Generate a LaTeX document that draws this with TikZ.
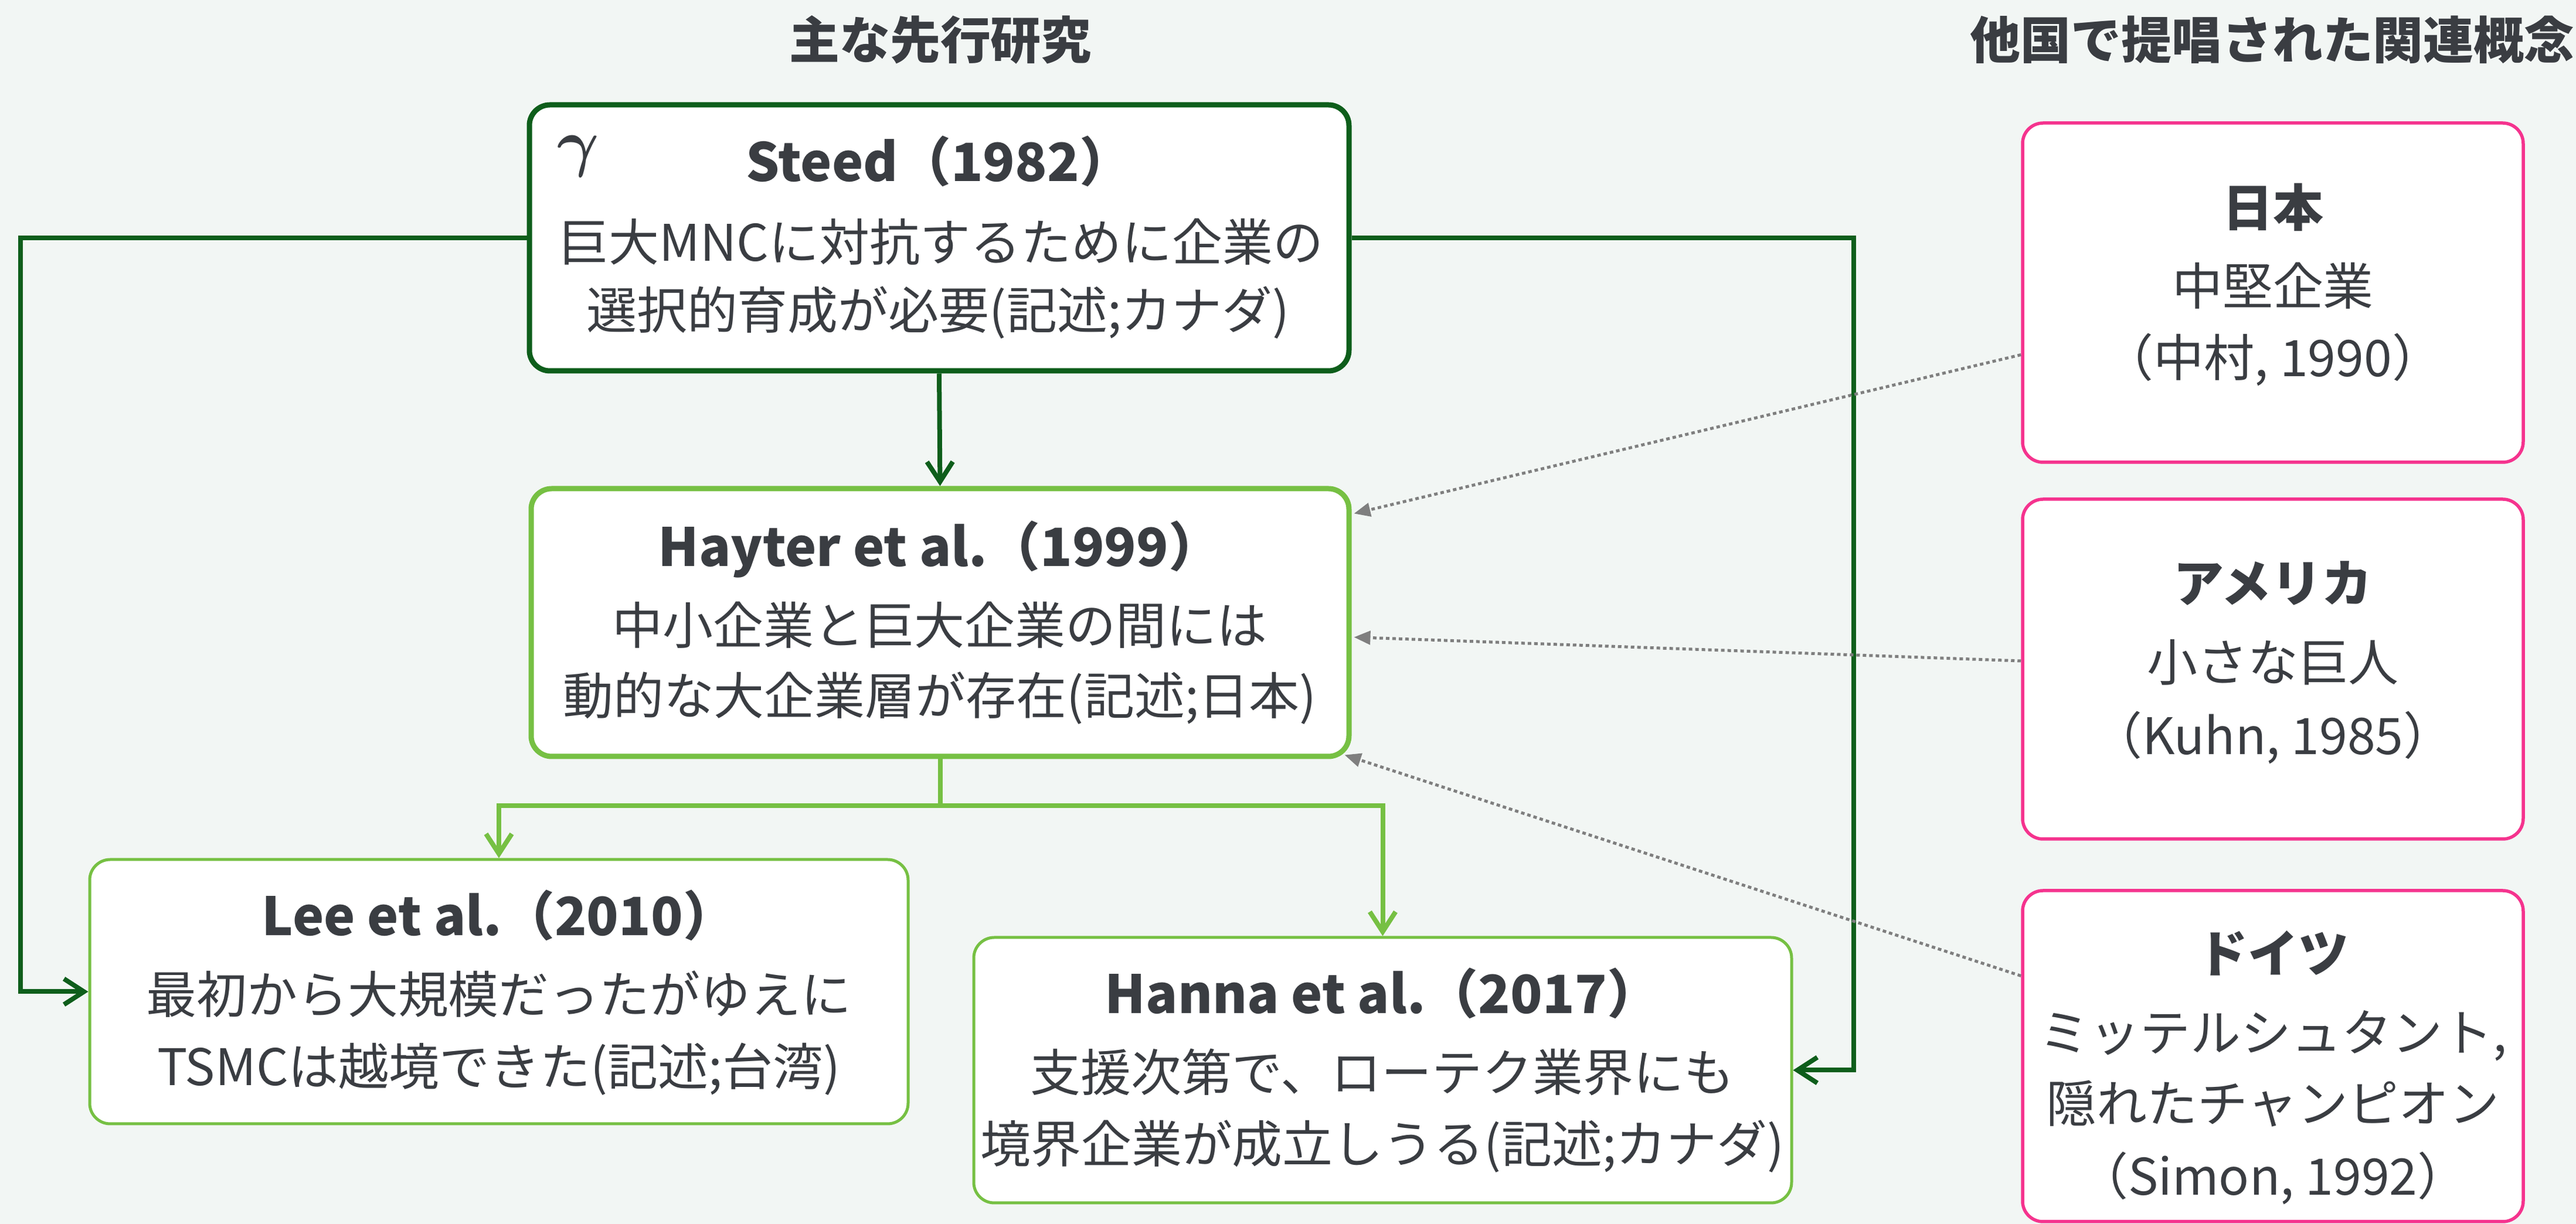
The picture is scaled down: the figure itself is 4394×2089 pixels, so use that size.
\documentclass[tikz,border=0pt]{standalone}
\usepackage{bm}
\usepackage{fontspec}
\setmainfont{Noto Sans CJK JP}
\usetikzlibrary{fit,arrows.meta,calc}
\definecolor{bg}{HTML}{F2F6F4}
\definecolor{dkg}{HTML}{0E5E1B}
\definecolor{ltg}{HTML}{76C043}
\definecolor{pnk}{HTML}{F5338E}
\definecolor{txt}{HTML}{3A3D42}
\definecolor{gry}{HTML}{7F7F7F}
\begin{document}
\begin{tikzpicture}[x=0.1pt,y=-0.1pt,
  box/.style={draw, fill=white, rounded corners=3.5pt, inner sep=0pt},
  body/.style={anchor=base, inner sep=0pt, text=txt, font=\fontsize{8.6pt}{10pt}\selectfont},
  head/.style={anchor=base, inner sep=0pt, text=txt, font=\fontsize{9pt}{10pt}\selectfont\bfseries},
  title/.style={anchor=base, inner sep=0pt, text=txt, font=\fontsize{8.6pt}{10pt}\selectfont\bfseries},
  dkarrow/.style={draw=dkg, line width=0.8pt, -{Straight Barb[length=3.4pt,width=4.4pt]}},
  ltarrow/.style={draw=ltg, line width=0.8pt, -{Straight Barb[length=3.4pt,width=4.4pt]}},
  dotarrow/.style={draw=gry, line width=0.5pt, dash pattern=on 0.6pt off 0.5pt, -{Triangle[length=2.8pt,width=2.3pt]}},
]
\useasboundingbox (0,0) rectangle (4394,2089);
\fill[bg] (0,0) rectangle (4394,2089);

% titles
\node[title] (t1) at (1604,101) {主な先行研究};
\node[title] (t2) at (3876,101) {他国で提唱された関連概念};

% boxes
\node[box, draw=dkg, line width=0.9pt, fit={(903,179)(2301,633)}] (steed) {};
\node[box, draw=ltg, line width=0.9pt, fit={(906,834)(2301,1291)}] (hayter) {};
\node[box, draw=ltg, line width=0.5pt, fit={(153,1467)(1549,1918)}] (lee) {};
\node[box, draw=ltg, line width=0.5pt, fit={(1661,1600)(3056,2053)}] (hanna) {};
\node[box, draw=pnk, line width=0.55pt, fit={(3450,210)(4304,789)}] (jp) {};
\node[box, draw=pnk, line width=0.55pt, fit={(3450,852)(4304,1432)}] (us) {};
\node[box, draw=pnk, line width=0.55pt, fit={(3450,1520)(4304,2085)}] (de) {};

% Steed text
\node[anchor=base, inner sep=0pt, text=txt, font=\fontsize{10.5pt}{11pt}\selectfont] (gam) at (986,281) {$\bm{\gamma}$};
\node[head] (steedH) at (1602,310) {Steed（1982）};
\node[body] (steedA) at (1605,446) {巨大MNCに対抗するために企業の};
\node[body] (steedB) at (1600,562) {選択的育成が必要(記述;カナダ)};

% Hayter text
\node[head] (hayH) at (1603,967) {Hayter et al.（1999）};
\node[body] (hayA) at (1603,1100) {中小企業と巨大企業の間には};
\node[body] (hayB) at (1603,1220) {動的な大企業層が存在(記述;日本)};

% Lee text
\node[head] (leeH) at (851,1597) {Lee et al.（2010）};
\node[body] (leeA) at (851,1730) {最初から大規模だったがゆえに};
\node[body] (leeB) at (851,1853) {TSMCは越境できた(記述;台湾)};

% Hanna text
\node[head] (hanH) at (2358,1730) {Hanna et al.（2017）};
\node[body] (hanA) at (2358,1863) {支援次第で、ローテク業界にも};
\node[body] (hanB) at (2358,1985) {境界企業が成立しうる(記述;カナダ)};

% Japan
\node[title] (jpH) at (3877,387) {日本};
\node[body] (jpA) at (3877,521) {中堅企業};
\node[body] (jpB) at (3877,643) {（中村, 1990）};

% USA
\node[title] (usH) at (3877,1028) {アメリカ};
\node[body] (usA) at (3877,1163) {小さな巨人};
\node[body] (usB) at (3877,1288) {（Kuhn, 1985）};

% Germany
\node[title] (deH) at (3877,1660) {ドイツ};
\node[body] (deA) at (3877,1795) {ミッテルシュタント,};
\node[body] (deB) at (3877,1916) {隠れたチャンピオン};
\node[body] (deC) at (3877,2040) {（Simon, 1992）};

% connectors
\coordinate (lx) at (35,0);
\coordinate (rx) at (3162,0);
\draw[dkarrow] (steed.south) -- (hayter.north);
\draw[dkarrow] (steed.west) -- (steed.west -| lx) |- (lee.west);
\draw[dkarrow] (steed.east) -- (steed.east -| rx) |- (hanna.east);
\coordinate (split) at ($(hayter.south)+(0,80)$);
\draw[ltarrow] (hayter.south) -- (split) -| (lee.north);
\draw[ltarrow] (split) -| (hanna.north);

\draw[dotarrow] ($(jp.west)+(0,106)$) -- ($(hayter.north east)+(4,47)$);
\draw[dotarrow] ($(us.west)+(0,-14)$) -- ($(hayter.east)+(4,25)$);
\draw[dotarrow] ($(de.west)+(0,-137)$) -- ($(hayter.south east)+(-12,-7)$);
\end{tikzpicture}
\end{document}
